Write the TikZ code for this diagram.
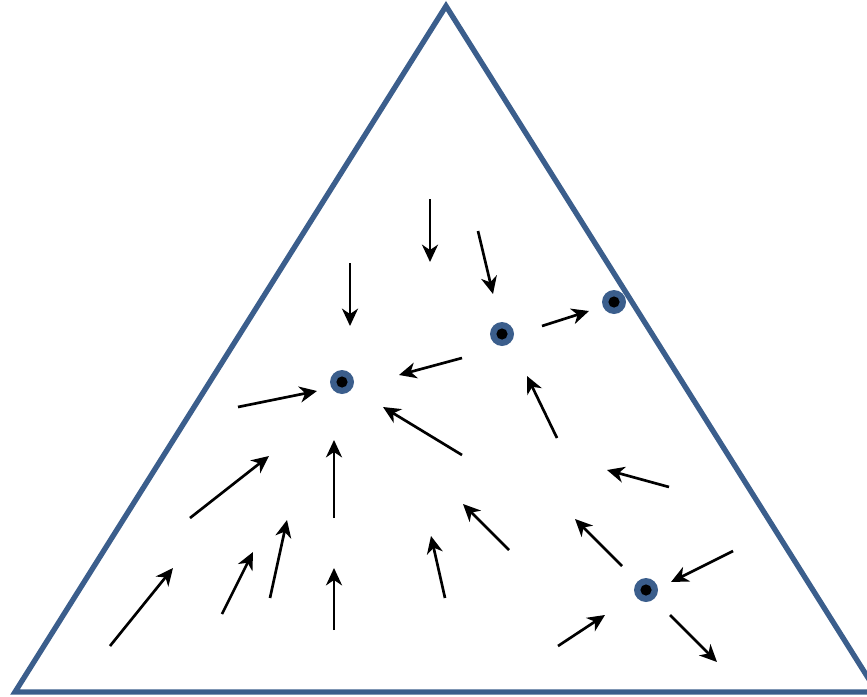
\documentclass[tikz,border=0pt]{standalone}
\usetikzlibrary{arrows.meta}
\definecolor{triblue}{RGB}{59,94,140}
\begin{document}
\begin{tikzpicture}[x=0.75pt,y=-0.75pt,
  flow/.style={line width=2pt,-{Stealth[length=13pt,width=12pt,inset=4pt]}},
  fixpt/.style={circle,fill=triblue,minimum size=18pt,inner sep=0pt,
     path picture={\fill[black] (path picture bounding box.center) circle (4.2pt);}}]
\useasboundingbox (0,0) rectangle (867,696);
\begin{scope}
\clip (0,0) rectangle (867,696);
\draw[triblue,line width=4pt,line join=miter] (446,6) -- (15,692) -- (877,692) -- cycle;
\end{scope}
\node[fixpt] (d1) at (342,382) {};
\node[fixpt] (d2) at (502,334) {};
\node[fixpt] (d3) at (614,302) {};
\node[fixpt] (d4) at (646,590) {};
\foreach \n/\a/\b/\c/\d in {
 1/430/199/430/262, 2/478/231/493/294, 3/350/263/350/326, 4/542/326/589/311,
 5/462/358/399/375, 6/238/407/317/391, 7/462/455/383/407, 8/557/438/527/376,
 9/669/487/607/470, 10/190/518/269/456, 11/334/518/334/440, 12/509/550/463/504,
 13/622/566/575/519, 14/733/551/671/582, 15/222/614/253/552, 16/270/598/287/520,
 17/334/630/334/568, 18/445/598/431/536, 19/110/646/173/568, 20/558/646/605/615,
 21/670/615/717/662}{
  \coordinate (s\n) at (\a,\b);
  \coordinate (e\n) at (\c,\d);
  \draw[flow] (s\n) -- (e\n);
}
\end{tikzpicture}
\end{document}
